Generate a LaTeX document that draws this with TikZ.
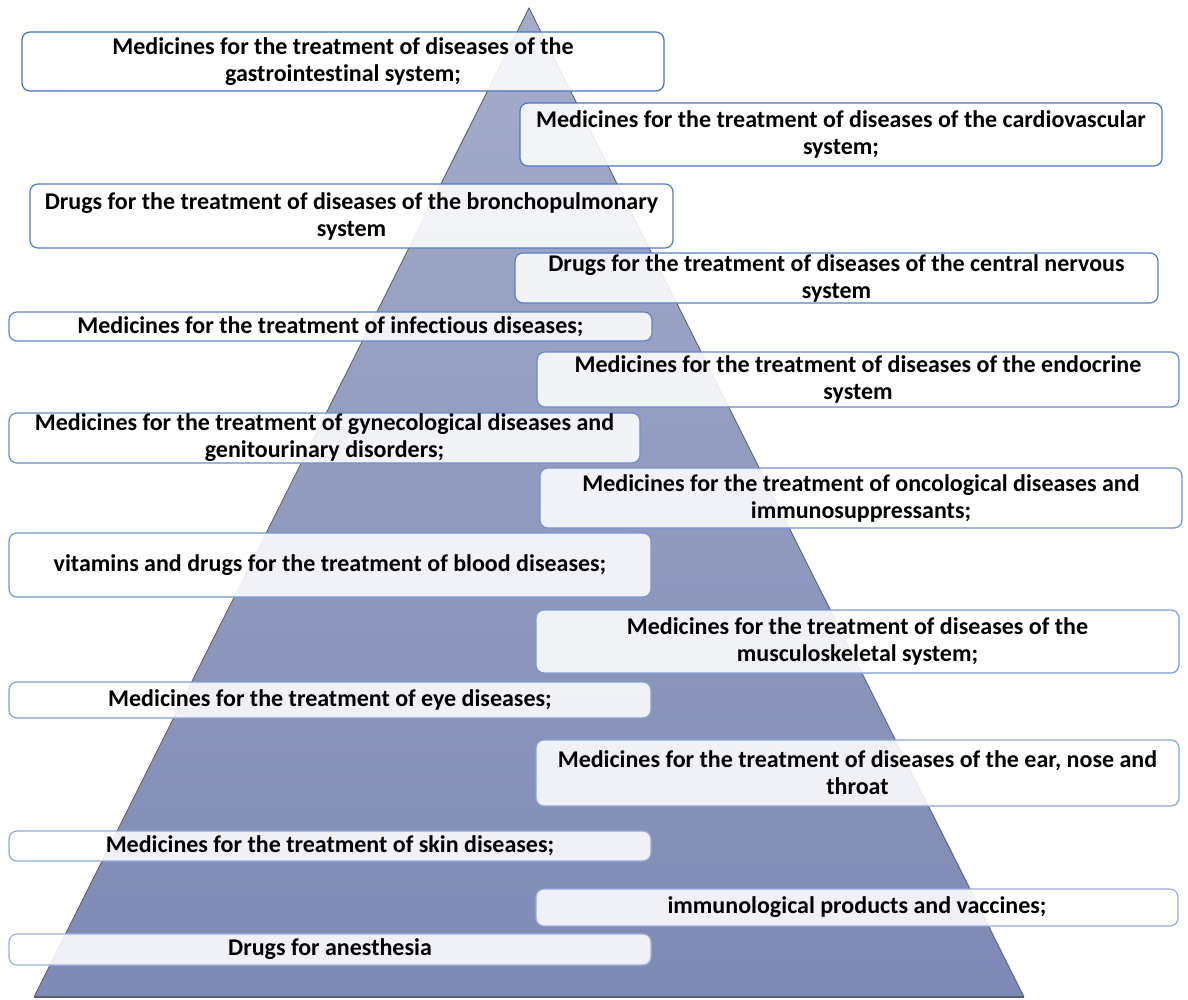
\documentclass[tikz,border=0pt]{standalone}
\usepackage{fontspec}
\setmainfont{Carlito}[Ligatures={NoCommon,NoRequired,NoContextual},Contextuals=NoAlternate]
\definecolor{pyrtop}{HTML}{A5ACCA}
\definecolor{pyrbot}{HTML}{7E8AB5}
\definecolor{bdtop}{HTML}{4472C4}
\definecolor{bdbot}{HTML}{9DB0DE}
\definecolor{pyredge}{HTML}{5A5F73}
\tikzset{
  box/.style={draw, rounded corners=8pt, fill=white, fill opacity=0.88, text opacity=1,
    line width=1.2pt, inner sep=0pt, align=center, text=black,
    font=\bfseries\fontsize{24}{27}\selectfont},
  pyr/.style={top color=pyrtop, bottom color=pyrbot},
  pyrline/.style={draw=pyredge, line width=0.8pt},
  baseline/.style={draw=pyredge, line width=2.2pt}
}
% \bx{name}{x1}{y1}{x2}{y2}{mix}{text}
\newcommand{\bx}[7]{%
  \node[box, draw=bdbot!#6!bdtop, minimum width={#4pt-#2pt}, minimum height={#5pt-#3pt}]
    (#1) at ({(#2+#4)/2},{(#3+#5)/2}) {#7};}
\begin{document}
\begin{tikzpicture}[x=1pt,y=-1pt]
\useasboundingbox[fill=white] (0,0) rectangle (1188,999);
\coordinate (apex) at (529,8);
\coordinate (bl) at (34,997);
\coordinate (br) at (1024,997);
\fill[pyr] (apex) -- (br) -- (bl) -- cycle;
\draw[pyrline] (bl) -- (apex) -- (br);
\draw[baseline] (bl) -- (br);

\bx{n1}{22}{32}{664}{91}{0}{Medicines for the treatment of diseases of the\\gastrointestinal system;}
\bx{n2}{520}{103}{1162}{166}{7}{Medicines for the treatment of diseases of the cardiovascular\\system;}
\bx{n3}{30}{184}{673}{248}{14}{Drugs for the treatment of diseases of the bronchopulmonary\\system}
\bx{n4}{515}{253}{1158}{303}{21}{Drugs for the treatment of diseases of the central nervous\\system}
\bx{n5}{9}{312}{652}{341}{29}{Medicines for the treatment of infectious diseases;}
\bx{n6}{537}{352}{1179}{407}{36}{Medicines for the treatment of diseases of the endocrine\\system}
\bx{n7}{9}{413}{640}{463}{43}{Medicines for the treatment of gynecological diseases and\\genitourinary disorders;}
\bx{n8}{540}{468}{1182}{528}{50}{Medicines for the treatment of oncological diseases and\\immunosuppressants;}
\bx{n9}{9}{533}{651}{597}{57}{vitamins and drugs for the treatment of blood diseases;}
\bx{n10}{536}{610}{1179}{673}{64}{Medicines for the treatment of diseases of the\\musculoskeletal system;}
\bx{n11}{9}{682}{651}{718}{71}{Medicines for the treatment of eye diseases;}
\bx{n12}{536}{740}{1179}{806}{79}{Medicines for the treatment of diseases of the ear, nose and\\throat}
\bx{n13}{9}{831}{651}{861}{86}{Medicines for the treatment of skin diseases;}
\bx{n14}{536}{889}{1178}{926}{93}{immunological products and vaccines;}
\bx{n15}{9}{934}{651}{965}{100}{Drugs for anesthesia}
\end{tikzpicture}
\end{document}
